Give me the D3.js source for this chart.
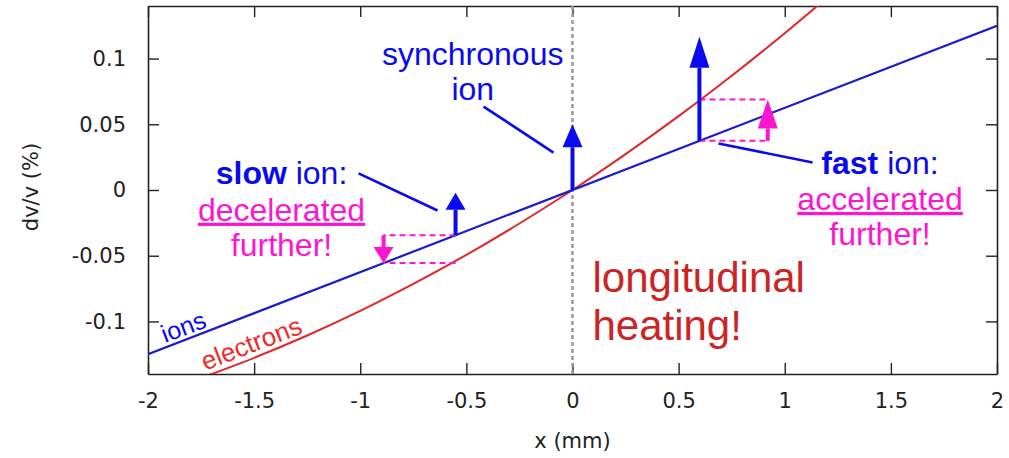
<!DOCTYPE html>
<html>
<head>
<meta charset="utf-8">
<script src="https://cdn.jsdelivr.net/npm/d3@7"></script>
<style>
  body { margin: 0; background: #fff; }
  text { font-family: "Liberation Sans", Arial, sans-serif; }
  .tick text { font-family: "DejaVu Sans", sans-serif; font-size: 21px; fill: #222; }
</style>
</head>
<body>
<script>
// tick values
var xTicks = [-2, -1.5, -1, -0.5, 0, 0.5, 1, 1.5, 2];
var yTicks = [-0.1, -0.05, 0, 0.05, 0.1];

// ions: straight line
var ionsX = [-2, 2];
var ionsY = [-0.125, 0.125];

// electrons: curve
var elecX = [-1.75, -1.5, -1.25, -1.0, -0.75, -0.5, -0.25, 0, 0.25, 0.5, 0.75, 1.0, 1.25];
var elecY = [-0.143, -0.1277, -0.1107, -0.092, -0.0715, -0.0494, -0.0255, 0, 0.0273, 0.0562, 0.0869, 0.1193, 0.1533];

// blue arrows (slow, synchronous, fast ion)
var ionArrowX = [-0.551, 0, 0.598];
var ionArrowFrom = [-0.0344, 0, 0.0374];
var ionArrowTo = [-0.002, 0.05, 0.1166];

// magenta kicks
var kickX = [-0.89, 0.92];
var kickFrom = [-0.0344, 0.0374];
var kickTo = [-0.0556, 0.0689];

window.onload = () => {
  var W = 1009, H = 458;
  var margin = { top: 6, right: 12, bottom: 84, left: 148 };
  var x = d3.scaleLinear().domain([-2, 2]).range([margin.left, W - margin.right]);
  var y = d3.scaleLinear().domain([-0.14, 0.14]).range([H - margin.bottom, margin.top]);

  var svg = d3.select("body").append("svg").attr("width", W).attr("height", H);

  svg.append("defs").append("clipPath").attr("id", "clip")
    .append("rect")
    .attr("x", x(-2)).attr("y", y(0.14))
    .attr("width", x(2) - x(-2)).attr("height", y(-0.14) - y(0.14));

  // axes, ticks pointing inwards on all four sides
  var fmt = d => String(d);
  var ax = [
    { a: d3.axisBottom(x).tickValues(xTicks).tickFormat(fmt).tickPadding(19), t: "translate(0," + y(-0.14) + ")" },
    { a: d3.axisTop(x).tickValues(xTicks).tickFormat(""), t: "translate(0," + y(0.14) + ")" },
    { a: d3.axisLeft(y).tickValues(yTicks).tickFormat(fmt).tickPadding(22), t: "translate(" + x(-2) + ",0)" },
    { a: d3.axisRight(y).tickValues(yTicks).tickFormat(""), t: "translate(" + x(2) + ",0)" }
  ];
  ax.forEach(o => {
    var g = svg.append("g").attr("transform", o.t)
      .call(o.a.tickSizeInner(-11).tickSizeOuter(0));
    g.select(".domain").attr("stroke", "#222").attr("stroke-width", 1.6);
    g.selectAll(".tick line").attr("stroke", "#222").attr("stroke-width", 1.4);
  });

  // axis titles
  svg.append("text")
    .attr("x", x(0)).attr("y", 448)
    .attr("text-anchor", "middle")
    .style("font-family", "DejaVu Sans").style("font-size", "21px").attr("fill", "#222")
    .text("x (mm)");
  svg.append("text")
    .attr("transform", "translate(38,187) rotate(-90)")
    .attr("text-anchor", "middle")
    .style("font-family", "DejaVu Sans").style("font-size", "21px").attr("fill", "#222")
    .text("dv/v (%)");

  var plot = svg.append("g").attr("clip-path", "url(#clip)");

  // synchronous position
  plot.append("line")
    .attr("x1", x(0)).attr("x2", x(0))
    .attr("y1", y(0.14)).attr("y2", y(-0.14))
    .attr("stroke", "#999").attr("stroke-width", 2.5)
    .attr("stroke-dasharray", "4,3");

  var line = d3.line().x(d => x(d[0])).y(d => y(d[1]));
  plot.append("path")
    .datum(elecX.map((v, i) => [v, elecY[i]]))
    .attr("d", line.curve(d3.curveCatmullRom))
    .attr("fill", "none").attr("stroke", "#e0282a").attr("stroke-width", 2);
  plot.append("path")
    .datum(ionsX.map((v, i) => [v, ionsY[i]]))
    .attr("d", d3.line().x(d => x(d[0])).y(d => y(d[1])))
    .attr("fill", "none").attr("stroke", "#1c1ccc").attr("stroke-width", 2.2);

  // magenta dashed guides
  var magenta = "#ff14d2";
  kickX.forEach((k, i) => {
    var ix = ionArrowX[i === 0 ? 0 : 2];
    [kickFrom[i], kickTo[i]].forEach(v => {
      plot.append("line")
        .attr("x1", x(ix)).attr("x2", x(k))
        .attr("y1", y(v)).attr("y2", y(v))
        .attr("stroke", magenta).attr("stroke-width", 2)
        .attr("stroke-dasharray", "6,4");
    });
  });

  function arrow(xv, v0, v1, color, headLen, headW, shaftW) {
    var px = x(xv), p0 = y(v0), p1 = y(v1);
    var dir = p1 < p0 ? 1 : -1; // 1 = pointing up
    var base = p1 + dir * headLen;
    svg.append("line")
      .attr("x1", px).attr("x2", px).attr("y1", p0).attr("y2", base)
      .attr("stroke", color).attr("stroke-width", shaftW);
    svg.append("path")
      .attr("d", "M" + px + "," + p1 + "L" + (px - headW / 2) + "," + base + "L" + (px + headW / 2) + "," + base + "Z")
      .attr("fill", color);
  }

  var blue = "#0a0af0";
  var heads = [17, 23, 31];
  ionArrowX.forEach((v, i) => arrow(v, ionArrowFrom[i], ionArrowTo[i], blue, heads[i], 20, 4));
  var kheads = [16, 29];
  kickX.forEach((v, i) => arrow(v, kickFrom[i], kickTo[i], magenta, kheads[i], 20, 4));

  // leader lines
  var leaders = [
    [[-0.419, 0.0635], [-0.0895, 0.0285]],
    [[-1.008, 0.0126], [-0.636, -0.0156]],
    [[0.688, 0.0354], [1.131, 0.0209]]
  ];
  leaders.forEach(l => {
    svg.append("line")
      .attr("x1", x(l[0][0])).attr("y1", y(l[0][1]))
      .attr("x2", x(l[1][0])).attr("y2", y(l[1][1]))
      .attr("stroke", blue).attr("stroke-width", 2.6);
  });

  function label(xv, yv, str, color, size, anchor) {
    return svg.append("text")
      .attr("x", x(xv)).attr("y", y(yv))
      .attr("text-anchor", anchor || "middle")
      .attr("fill", color).style("font-size", size + "px")
      .text(str);
  }

  label(-0.47, 0.0951, "synchronous", blue, 32);
  label(-0.47, 0.0685, "ion", blue, 32);

  var s = label(-1.371, 0.0046, "", blue, 32);
  s.append("tspan").style("font-weight", "bold").text("slow");
  s.append("tspan").text(" ion:");
  label(-1.371, -0.0234, "decelerated", magenta, 32).style("text-decoration", "underline");
  label(-1.371, -0.0502, "further!", magenta, 32);

  var f = label(1.449, 0.0122, "", blue, 32);
  f.append("tspan").style("font-weight", "bold").text("fast");
  f.append("tspan").text(" ion:");
  label(1.449, -0.0152, "accelerated", magenta, 32).style("text-decoration", "underline");
  label(1.449, -0.0418, "further!", magenta, 32);

  label(0.094, -0.0776, "longitudinal", "#cc2424", 42, "start");
  label(0.094, -0.1141, "heating!", "#cc2424", 42, "start");

  // curve labels, rotated along the lines
  svg.append("text")
    .attr("transform", "translate(" + x(-1.92) + "," + y(-0.1165) + ") rotate(-21)")
    .attr("fill", blue).style("font-size", "25px").text("ions");
  svg.append("text")
    .attr("transform", "translate(" + x(-1.73) + "," + y(-0.1375) + ") rotate(-21)")
    .attr("fill", "#f02a2a").style("font-size", "26px").text("electrons");
};
</script>
</body>
</html>
